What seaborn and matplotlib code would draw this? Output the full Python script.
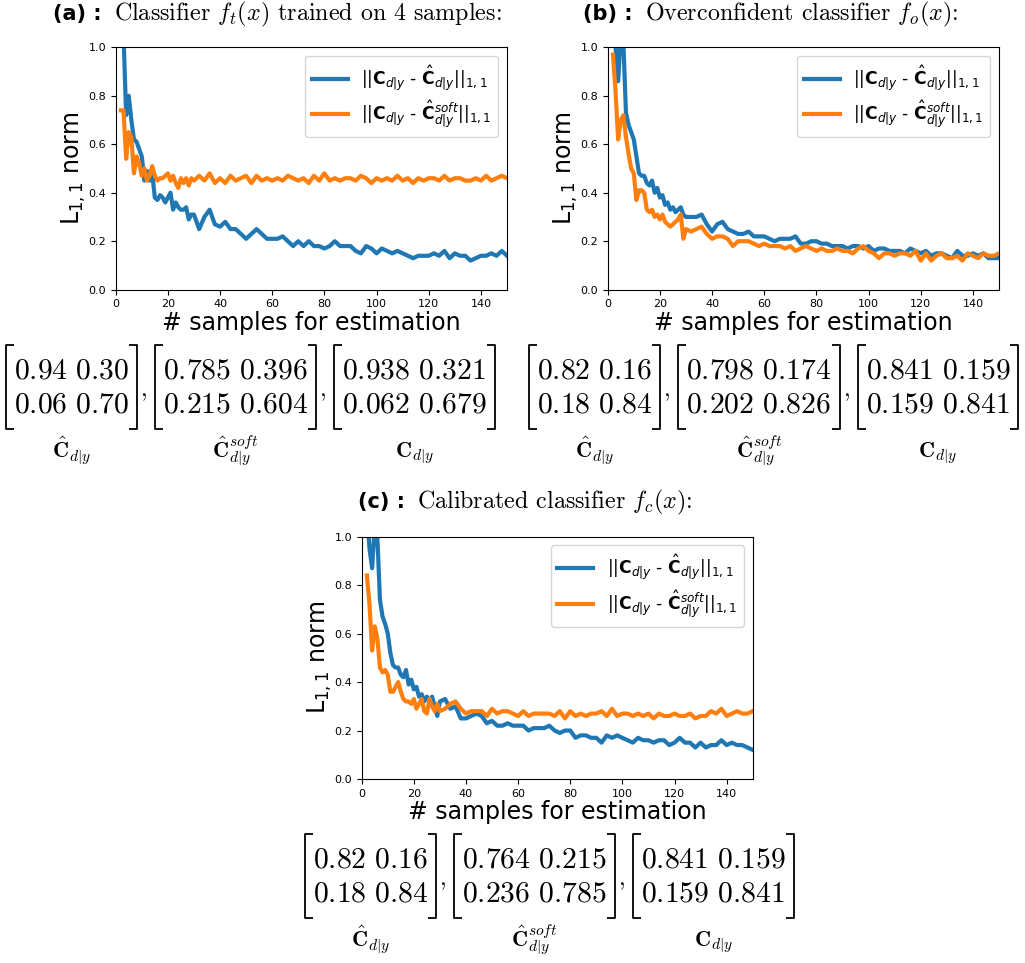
import numpy as np
import pandas as pd
import matplotlib
matplotlib.use("Agg")
import matplotlib.pyplot as plt
import seaborn as sns
from matplotlib.lines import Line2D

# ---------------- data ----------------
n_samples = list(range(2, 31)) + list(range(32, 151, 2))

a_hard = [1.30, 1.05, 0.72, 0.80, 0.70, 0.62, 0.61, 0.58, 0.55, 0.45, 0.49, 0.45, 0.48, 0.38, 0.37,
          0.39, 0.38, 0.36, 0.38, 0.40, 0.33, 0.36, 0.34, 0.33, 0.33, 0.34, 0.29, 0.31, 0.31,
          0.25, 0.30, 0.33, 0.27, 0.26, 0.28, 0.25, 0.25, 0.23, 0.21, 0.23, 0.25, 0.23, 0.21,
          0.21, 0.21, 0.22, 0.20, 0.18, 0.20, 0.18, 0.20, 0.18, 0.18, 0.17, 0.18, 0.20, 0.18,
          0.18, 0.18, 0.16, 0.15, 0.18, 0.17, 0.15, 0.17, 0.16, 0.15, 0.16, 0.15, 0.14, 0.13,
          0.14, 0.14, 0.14, 0.15, 0.14, 0.16, 0.13, 0.15, 0.14, 0.14, 0.12, 0.13, 0.14, 0.14,
          0.15, 0.14, 0.16, 0.14]
a_soft = [0.74, 0.74, 0.54, 0.65, 0.63, 0.48, 0.55, 0.52, 0.47, 0.50, 0.45, 0.47, 0.51, 0.47, 0.45,
          0.46, 0.46, 0.47, 0.48, 0.45, 0.47, 0.44, 0.42, 0.46, 0.44, 0.46, 0.43, 0.46, 0.45,
          0.47, 0.45, 0.48, 0.44, 0.46, 0.44, 0.47, 0.45, 0.46, 0.47, 0.44, 0.47, 0.45, 0.46,
          0.45, 0.46, 0.45, 0.47, 0.46, 0.45, 0.46, 0.44, 0.47, 0.45, 0.48, 0.45, 0.46, 0.45,
          0.46, 0.46, 0.45, 0.47, 0.46, 0.44, 0.46, 0.45, 0.46, 0.45, 0.47, 0.45, 0.46, 0.44,
          0.46, 0.45, 0.46, 0.46, 0.45, 0.47, 0.45, 0.46, 0.46, 0.45, 0.45, 0.46, 0.45, 0.47,
          0.45, 0.46, 0.47, 0.46]

b_hard = [1.15, 1.00, 0.86, 1.05, 1.02, 0.73, 0.68, 0.65, 0.62, 0.55, 0.48, 0.47, 0.47, 0.44, 0.43,
          0.45, 0.40, 0.42, 0.38, 0.39, 0.35, 0.36, 0.33, 0.34, 0.32, 0.33, 0.34, 0.31, 0.30,
          0.30, 0.30, 0.31, 0.27, 0.24, 0.27, 0.28, 0.25, 0.24, 0.23, 0.23, 0.24, 0.22, 0.22,
          0.22, 0.21, 0.20, 0.21, 0.21, 0.21, 0.22, 0.19, 0.19, 0.20, 0.20, 0.19, 0.19, 0.18,
          0.18, 0.18, 0.17, 0.18, 0.18, 0.17, 0.18, 0.16, 0.17, 0.17, 0.16, 0.16, 0.16, 0.15,
          0.17, 0.16, 0.15, 0.16, 0.14, 0.15, 0.15, 0.14, 0.13, 0.16, 0.14, 0.14, 0.15, 0.14,
          0.15, 0.13, 0.13, 0.13]
b_soft = [0.97, 0.82, 0.62, 0.70, 0.72, 0.63, 0.56, 0.50, 0.48, 0.37, 0.41, 0.41, 0.40, 0.33, 0.32,
          0.33, 0.30, 0.31, 0.29, 0.31, 0.28, 0.27, 0.26, 0.27, 0.28, 0.29, 0.31, 0.21, 0.25,
          0.24, 0.25, 0.26, 0.23, 0.21, 0.22, 0.22, 0.21, 0.18, 0.20, 0.20, 0.20, 0.19, 0.18,
          0.19, 0.18, 0.18, 0.18, 0.17, 0.18, 0.16, 0.17, 0.18, 0.17, 0.16, 0.17, 0.16, 0.16,
          0.17, 0.16, 0.16, 0.15, 0.17, 0.18, 0.16, 0.15, 0.13, 0.15, 0.15, 0.14, 0.15, 0.15,
          0.14, 0.16, 0.12, 0.15, 0.12, 0.14, 0.15, 0.13, 0.13, 0.14, 0.12, 0.15, 0.14, 0.13,
          0.15, 0.14, 0.14, 0.15]

c_hard = [1.10, 0.95, 0.87, 1.05, 1.00, 0.74, 0.67, 0.64, 0.60, 0.52, 0.47, 0.46, 0.46, 0.43, 0.42,
          0.45, 0.39, 0.41, 0.37, 0.38, 0.34, 0.35, 0.32, 0.34, 0.32, 0.34, 0.30, 0.26, 0.32,
          0.33, 0.29, 0.30, 0.25, 0.25, 0.26, 0.27, 0.26, 0.23, 0.24, 0.22, 0.22, 0.23, 0.22,
          0.22, 0.22, 0.20, 0.21, 0.21, 0.21, 0.22, 0.20, 0.19, 0.20, 0.20, 0.17, 0.18, 0.18,
          0.17, 0.17, 0.15, 0.18, 0.17, 0.18, 0.17, 0.16, 0.15, 0.17, 0.16, 0.16, 0.15, 0.16,
          0.16, 0.14, 0.15, 0.17, 0.15, 0.15, 0.13, 0.15, 0.13, 0.14, 0.14, 0.16, 0.14, 0.15,
          0.14, 0.14, 0.13, 0.12]
c_soft = [0.84, 0.72, 0.53, 0.63, 0.58, 0.46, 0.44, 0.45, 0.43, 0.36, 0.36, 0.38, 0.40, 0.36, 0.33,
          0.32, 0.32, 0.31, 0.33, 0.29, 0.31, 0.33, 0.28, 0.27, 0.33, 0.30, 0.28, 0.31, 0.28,
          0.29, 0.31, 0.32, 0.29, 0.27, 0.28, 0.28, 0.28, 0.26, 0.29, 0.27, 0.28, 0.28, 0.27,
          0.26, 0.28, 0.26, 0.27, 0.27, 0.27, 0.27, 0.26, 0.28, 0.25, 0.28, 0.26, 0.27, 0.26,
          0.27, 0.27, 0.28, 0.26, 0.29, 0.26, 0.27, 0.27, 0.26, 0.27, 0.26, 0.27, 0.25, 0.27,
          0.26, 0.26, 0.27, 0.26, 0.26, 0.27, 0.25, 0.26, 0.26, 0.28, 0.27, 0.29, 0.26, 0.27,
          0.28, 0.27, 0.27, 0.28]

series_labels = [r'$||\mathbf{C}_{d|y}$ - $\hat{\mathbf{C}}_{d|y}||_{1,1}$',
                 r'$||\mathbf{C}_{d|y}$ - $\hat{\mathbf{C}}^{soft}_{d|y}||_{1,1}$']
series_colors = ['#1f77b4', '#ff7f0e']

panel_tags = ['(a) :', '(b) :', '(c) :']
panel_titles = ['Classifier $f_t(x)$ trained on 4 samples:',
                'Overconfident classifier $f_o(x)$:',
                'Calibrated classifier $f_c(x)$:']
x_label = '# samples for estimation'
y_label = r'L$_{1,1}$ norm'
x_ticks = [0, 20, 40, 60, 80, 100, 120, 140]
y_ticks = [0.0, 0.2, 0.4, 0.6, 0.8, 1.0]

a_matrices = [[['0.94', '0.30'], ['0.06', '0.70']],
              [['0.785', '0.396'], ['0.215', '0.604']],
              [['0.938', '0.321'], ['0.062', '0.679']]]
b_matrices = [[['0.82', '0.16'], ['0.18', '0.84']],
              [['0.798', '0.174'], ['0.202', '0.826']],
              [['0.841', '0.159'], ['0.159', '0.841']]]
c_matrices = [[['0.82', '0.16'], ['0.18', '0.84']],
              [['0.764', '0.215'], ['0.236', '0.785']],
              [['0.841', '0.159'], ['0.159', '0.841']]]
matrix_names = [r'$\hat{\mathbf{C}}_{d|y}$', r'$\hat{\mathbf{C}}^{soft}_{d|y}$', r'$\mathbf{C}_{d|y}$']

# ---------------- figure ----------------
W, H = 1025, 963
fig = plt.figure(figsize=(W / 100, H / 100), dpi=100)
renderer = fig.canvas.get_renderer()


def fx(px):
    return px / W


def fy(py):
    return 1 - py / H


def make_panel(rect_px, hard, soft):
    l, t, r, b = rect_px
    ax = fig.add_axes([fx(l), fy(b), fx(r) - fx(l), fy(t) - fy(b)])
    df = pd.DataFrame({
        'n': n_samples + n_samples,
        'v': hard + soft,
        's': [series_labels[0]] * len(hard) + [series_labels[1]] * len(soft),
    })
    sns.lineplot(data=df, x='n', y='v', hue='s', palette=series_colors, linewidth=3,
                 ax=ax, legend=True)
    ax.set_xlim(0, 150)
    ax.set_ylim(0, 1)
    ax.set_xticks(x_ticks)
    ax.set_yticks(y_ticks)
    ax.tick_params(labelsize=8)
    ax.set_xlabel(x_label, fontsize=17, labelpad=1)
    ax.set_ylabel(y_label, fontsize=17, labelpad=0.5)
    handles, labels = ax.get_legend_handles_labels()
    ax.legend(handles, labels, loc='upper right', fontsize=12.3, handlelength=2.1,
              labelspacing=0.35, borderpad=0.4)
    return ax


make_panel((115.7, 47.3, 507, 289.7), a_hard, a_soft)
make_panel((607.7, 47.3, 999, 289.7), b_hard, b_soft)
make_panel((361.7, 536.7, 752.7, 779), c_hard, c_soft)

# titles
title_pos = [(53, 114, 14), (583, 645, 14), (358, 417, 502)]
for tag, ttl, (xtag, xttl, yc) in zip(panel_tags, panel_titles, title_pos):
    fig.text(fx(xtag), fy(yc), tag, fontsize=15, fontweight='bold', va='center', ha='left')
    fig.text(fx(xttl), fy(yc), ttl, fontsize=17.3, family='cmr10', math_fontfamily='cm',
             va='center', ha='left')


def bracket(xl, xr, yt, yb):
    serif = 8
    kw = dict(color='black', linewidth=1.3, transform=fig.transFigure, solid_capstyle='butt')
    fig.add_artist(Line2D([fx(xl + serif), fx(xl), fx(xl), fx(xl + serif)],
                          [fy(yt), fy(yt), fy(yb), fy(yb)], **kw))
    fig.add_artist(Line2D([fx(xr - serif), fx(xr), fx(xr), fx(xr - serif)],
                          [fy(yt), fy(yt), fy(yb), fy(yb)], **kw))


def matrix_row(mats, x_start, y_top, y_bot, y_name):
    yc = (y_top + y_bot) / 2
    row_gap = 17
    pad = 8
    cur = x_start
    for i, m in enumerate(mats):
        texts = []
        for k, row in enumerate(m):
            yr = yc - row_gap if k == 0 else yc + row_gap
            t = fig.text(fx(cur + pad), fy(yr), r'$' + row[0] + r'\ ' + row[1] + r'$',
                         fontsize=21.4, math_fontfamily='cm', ha='left', va='center')
            texts.append(t)
        wpx = max(t.get_window_extent(renderer).width for t in texts)
        xl = cur
        xr = cur + pad + wpx + pad
        bracket(xl, xr, y_top, y_bot)
        xm = (xl + xr) / 2
        fig.text(fx(xm), fy(y_name), matrix_names[i], fontsize=16, math_fontfamily='cm',
                 ha='center', va='baseline')
        if i < 2:
            fig.text(fx(xr + 3), fy(yc + 9), r'$,$', fontsize=17, math_fontfamily='cm',
                     ha='left', va='baseline')
        cur = xr + 18


matrix_row(a_matrices, 6, 345, 429, 456)
matrix_row(b_matrices, 529, 345, 429, 456)
matrix_row(c_matrices, 305, 834, 918, 945)

fig.savefig('out.png', dpi=100)
